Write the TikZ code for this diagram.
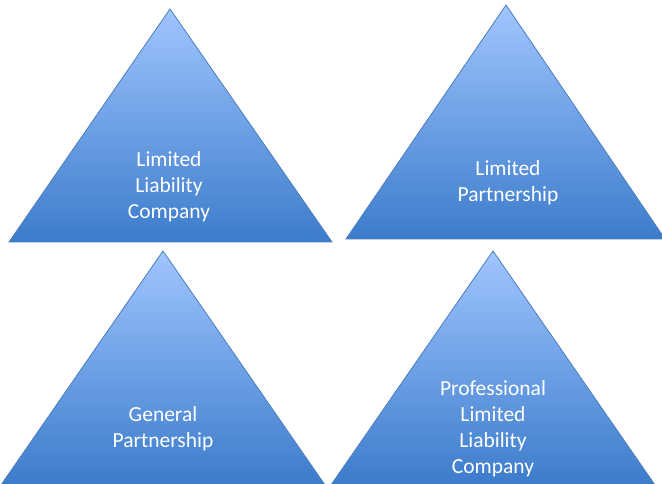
\documentclass[tikz,border=0pt]{standalone}
\usepackage{fontspec}
\setmainfont{Carlito}
\begin{document}
\begin{tikzpicture}[x=1bp,y=1bp,
  tri/.style={draw=edgeblue, line width=0.8bp, top color=topblue, bottom color=botblue, line join=miter},
  lbl/.style={text=white, align=center, font=\fontsize{21.5bp}{26bp}\selectfont}]
\definecolor{topblue}{HTML}{A0C5FF}
\definecolor{botblue}{HTML}{3C7CCB}
\definecolor{edgeblue}{HTML}{4A7EBB}
\useasboundingbox (0,0) rectangle (662,484);
\begin{scope}
\clip (0,0) rectangle (662,484);
\path[tri] (170,475) -- (332,242) -- (9,242) -- cycle;
\path[tri] (506,479) -- (665,245) -- (346,245) -- cycle;
\path[tri] (163,233) -- (325,-1) -- (1,-1) -- cycle;
\path[tri] (493,233) -- (655,-1) -- (331,-1) -- cycle;
\end{scope}
\node[lbl] (llc) at (169,297) {Limited\\Liability\\Company};
\node[lbl] (lp) at (508,301) {Limited\\Partnership};
\node[lbl] (gp) at (163,55) {General\\Partnership};
\node[lbl] (pllc) at (493,55) {Professional\\Limited\\Liability\\Company};
\end{tikzpicture}
\end{document}
